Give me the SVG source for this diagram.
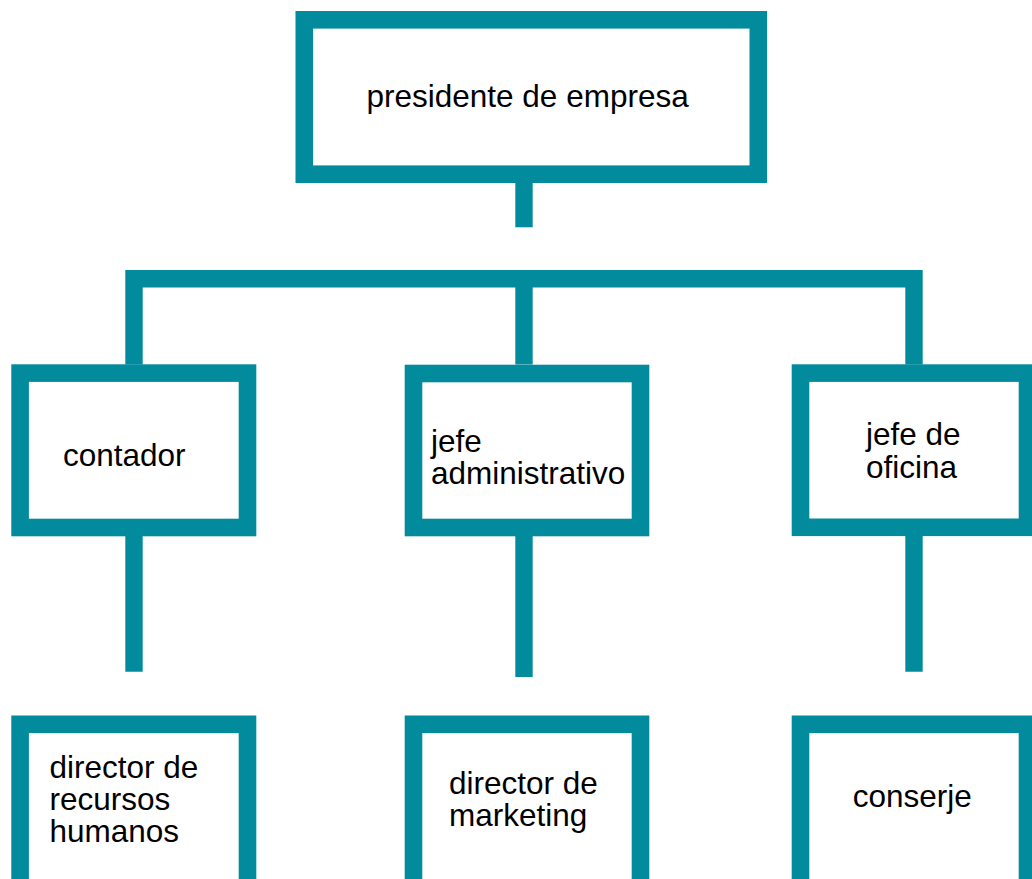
<svg xmlns="http://www.w3.org/2000/svg" width="1032" height="879" viewBox="0 0 1032 879">
  <style>
    .box { fill: #ffffff; stroke: #028b9c; stroke-width: 17.6; }
    .conn { fill: none; stroke: #028b9c; stroke-width: 17.4; stroke-linecap: butt; stroke-linejoin: miter; }
    .lbl { font-family: "Liberation Sans", Arial, sans-serif; font-size: 31.5px; fill: #000000; }
  </style>
  <rect width="1032" height="879" fill="#ffffff"/>
  <g id="connectors">
    <path class="conn" d="M524,183 V227.3"/>
    <path class="conn" d="M134,364.5 V278.7 H914 V364.5"/>
    <path class="conn" d="M524,278.7 V364.5"/>
    <path class="conn" d="M134,536 V671.7"/>
    <path class="conn" d="M524,536 V677"/>
    <path class="conn" d="M914,536 V671.7"/>
  </g>
  <g id="presidente">
    <rect class="box" x="304.3" y="19.8" width="454" height="154.4"/>
    <text class="lbl" x="366.5" y="107">presidente de empresa</text>
  </g>
  <g id="contador">
    <rect class="box" x="20.1" y="373.1" width="227.4" height="154.4"/>
    <text class="lbl" x="63" y="466">contador</text>
  </g>
  <g id="jefe-administrativo">
    <rect class="box" x="413.5" y="373.5" width="227" height="154"/>
    <text class="lbl" x="431" y="452">jefe</text>
    <text class="lbl" x="431" y="484.3">administrativo</text>
  </g>
  <g id="jefe-oficina">
    <rect class="box" x="800.5" y="373.1" width="227" height="154.2"/>
    <text class="lbl" x="866" y="445.3">jefe de</text>
    <text class="lbl" x="866" y="477.7">oficina</text>
  </g>
  <g id="director-rrhh">
    <rect class="box" x="20.1" y="724.3" width="227.4" height="200"/>
    <text class="lbl" x="49.5" y="777.5">director de</text>
    <text class="lbl" x="49.5" y="809.8">recursos</text>
    <text class="lbl" x="49.5" y="842">humanos</text>
  </g>
  <g id="director-marketing">
    <rect class="box" x="413.5" y="724.3" width="227" height="200"/>
    <text class="lbl" x="449" y="794">director de</text>
    <text class="lbl" x="449" y="826">marketing</text>
  </g>
  <g id="conserje">
    <rect class="box" x="800.5" y="724.3" width="227" height="200"/>
    <text class="lbl" x="852.7" y="807">conserje</text>
  </g>
</svg>
